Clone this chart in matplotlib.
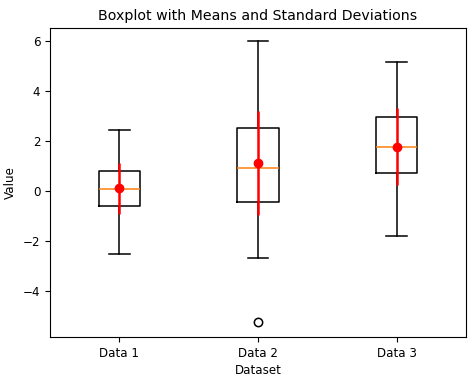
import matplotlib
matplotlib.use("Agg")
import matplotlib.pyplot as plt

labels = ["Data 1", "Data 2", "Data 3"]
whislo = [-2.52, -2.68, -1.79]
q1 = [-0.59, -0.44, 0.73]
med = [0.09, 0.93, 1.76]
q3 = [0.80, 2.51, 2.95]
whishi = [2.44, 6.00, 5.15]
fliers = [[], [-5.25], []]
means = [0.10, 1.11, 1.78]
stds = [1.03, 2.08, 1.53]

fig, ax = plt.subplots(figsize=(4.74, 3.81), dpi=100)
fig.subplots_adjust(left=0.1055, right=0.983, top=0.9265, bottom=0.1155)

stats = []
for i in range(len(labels)):
    stats.append(dict(label=labels[i], whislo=whislo[i], q1=q1[i], med=med[i],
                      q3=q3[i], whishi=whishi[i], fliers=fliers[i]))
lw = 1.1
ax.bxp(stats, positions=[1, 2, 3], showfliers=True,
       boxprops=dict(linewidth=lw), whiskerprops=dict(linewidth=lw),
       capprops=dict(linewidth=lw), medianprops=dict(linewidth=lw, color='#ff7f0e'),
       flierprops=dict(markersize=6, markeredgewidth=1.1))

ax.errorbar([1, 2, 3], means, yerr=stds, fmt='o', color='red', ecolor='red',
            elinewidth=1.8, markersize=6, capsize=0, zorder=5)

ax.set_xlim(0.5, 3.5)
ax.set_ylim(-5.84, 6.52)
ax.set_title("Boxplot with Means and Standard Deviations", fontsize=10.2)
ax.set_xlabel("Dataset", fontsize=8.6, labelpad=3)
ax.set_ylabel("Value", fontsize=8.6)
ax.tick_params(labelsize=8.6)

fig.savefig("out.png", dpi=100)
